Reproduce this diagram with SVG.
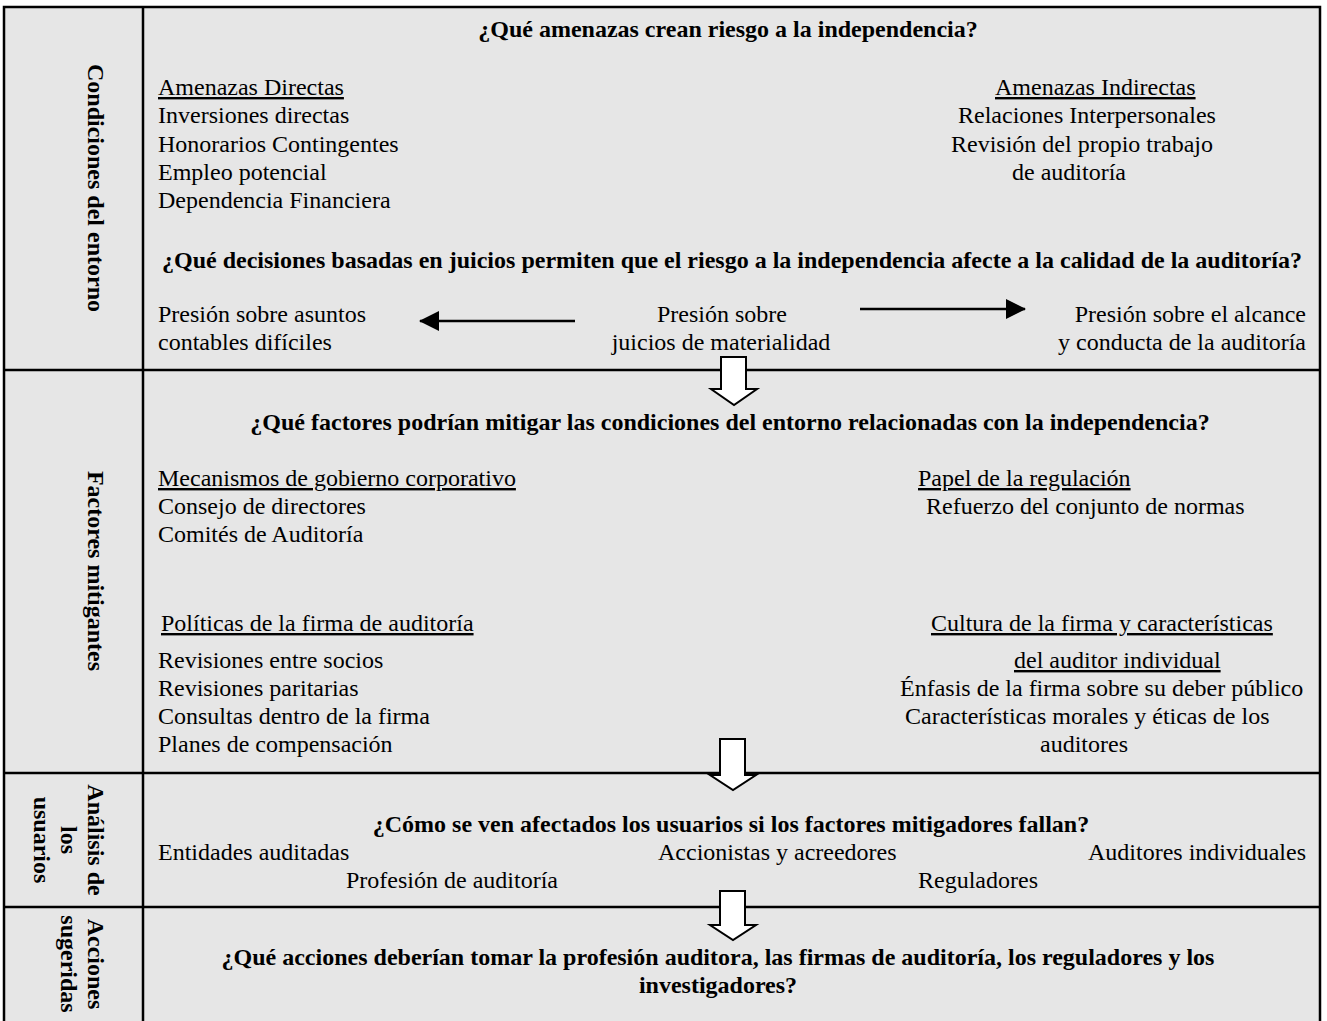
<svg xmlns="http://www.w3.org/2000/svg" width="1327" height="1021" viewBox="0 0 1327 1021">
<style>
text{font-family:"Liberation Serif","Times New Roman",serif;font-size:24px;fill:#000}
.b{font-weight:bold}
.u{text-decoration:underline}
.m{text-anchor:middle}
.e{text-anchor:end}
.ln{stroke:#000;stroke-width:2.5;fill:none}
.blk{fill:#fff;stroke:#000;stroke-width:2}
</style>
<defs>
<marker id="ah" markerWidth="20" markerHeight="20" refX="19" refY="10" orient="auto" markerUnits="userSpaceOnUse">
<path d="M0,0 L20,10 L0,20 Z" fill="#000"/>
</marker>
</defs>
<rect x="0" y="0" width="1327" height="1021" fill="#fff"/>
<rect x="4" y="7" width="1316" height="1014" fill="#e6e6e6"/>
<g id="frame">
<path class="ln" d="M4,1021 V7 H1320 V1021"/>
<path class="ln" d="M143,7 V1021"/>
<path class="ln" d="M4,370 H1320 M4,773 H1320 M4,907 H1320"/>
</g>
<g id="label-entorno"><text class="b m" transform="translate(88,188) rotate(90)">Condiciones del entorno</text></g>
<g id="label-mitigantes"><text class="b m" transform="translate(88,571) rotate(90)">Factores mitigantes</text></g>
<g id="label-usuarios">
<text class="b m" transform="translate(88,840) rotate(90)">Análisis de</text>
<text class="b m" transform="translate(61,840) rotate(90)">los</text>
<text class="b m" transform="translate(34,840) rotate(90)">usuarios</text>
</g>
<g id="label-acciones">
<text class="b m" transform="translate(88,964) rotate(90)">Acciones</text>
<text class="b m" transform="translate(61,964) rotate(90)">sugeridas</text>
</g>
<g id="sec-entorno">
<text class="b m" x="728" y="37">¿Qué amenazas crean riesgo a la independencia?</text>
<text class="u" x="158" y="95">Amenazas Directas</text>
<text x="158" y="123">Inversiones directas</text>
<text x="158" y="152">Honorarios Contingentes</text>
<text x="158" y="180">Empleo potencial</text>
<text x="158" y="208">Dependencia Financiera</text>
<text class="u" x="995" y="95">Amenazas Indirectas</text>
<text x="958" y="123">Relaciones Interpersonales</text>
<text x="951" y="152">Revisión del propio trabajo</text>
<text x="1012" y="180">de auditoría</text>
<text class="b m" x="732" y="268">¿Qué decisiones basadas en juicios permiten que el riesgo a la independencia afecte a la calidad de la auditoría?</text>
<text x="158" y="322">Presión sobre asuntos</text>
<text x="158" y="350">contables difíciles</text>
<text class="m" x="722" y="322">Presión sobre</text>
<text class="m" x="721" y="350">juicios de materialidad</text>
<text class="e" x="1306" y="322">Presión sobre el alcance</text>
<text class="e" x="1306" y="350">y conducta de la auditoría</text>
</g>
<g id="sec-mitigantes">
<text class="b m" x="730" y="430">¿Qué factores podrían mitigar las condiciones del entorno relacionadas con la independencia?</text>
<text class="u" x="158" y="486">Mecanismos de gobierno corporativo</text>
<text x="158" y="514">Consejo de directores</text>
<text x="158" y="542">Comités de Auditoría</text>
<text class="u" x="918" y="486">Papel de la regulación</text>
<text x="926" y="514">Refuerzo del conjunto de normas</text>
<text class="u" x="161" y="631">Políticas de la firma de auditoría</text>
<text x="158" y="668">Revisiones entre socios</text>
<text x="158" y="696">Revisiones paritarias</text>
<text x="158" y="724">Consultas dentro de la firma</text>
<text x="158" y="752">Planes de compensación</text>
<text class="u" x="931" y="631">Cultura de la firma y características</text>
<text class="u" x="1014" y="668">del auditor individual</text>
<text x="900" y="696">Énfasis de la firma sobre su deber público</text>
<text x="905" y="724">Características morales y éticas de los</text>
<text x="1040" y="752">auditores</text>
</g>
<g id="sec-usuarios">
<text class="b m" x="731" y="832">¿Cómo se ven afectados los usuarios si los factores mitigadores fallan?</text>
<text x="158" y="860">Entidades auditadas</text>
<text x="658" y="860">Accionistas y acreedores</text>
<text class="e" x="1306" y="860">Auditores individuales</text>
<text x="346" y="888">Profesión de auditoría</text>
<text x="918" y="888">Reguladores</text>
</g>
<g id="sec-acciones">
<text class="b m" x="718" y="965">¿Qué acciones deberían tomar la profesión auditora, las firmas de auditoría, los reguladores y los</text>
<text class="b m" x="718" y="993">investigadores?</text>
</g>
<g id="connectors">
<line class="ln" x1="575" y1="321" x2="420" y2="321" stroke-width="2" marker-end="url(#ah)"/>
<line class="ln" x1="860" y1="309" x2="1025" y2="309" stroke-width="2" marker-end="url(#ah)"/>
<path class="blk" d="M721,357 H746 V389 H757 L734,405 L711,389 H721 Z"/>
<path class="blk" d="M720,739 H745 V775 H756 L733,790 L710,775 H720 Z"/>
<path class="blk" d="M720,891 H745 V925 H756 L733,940 L710,925 H720 Z"/>
</g>
</svg>
